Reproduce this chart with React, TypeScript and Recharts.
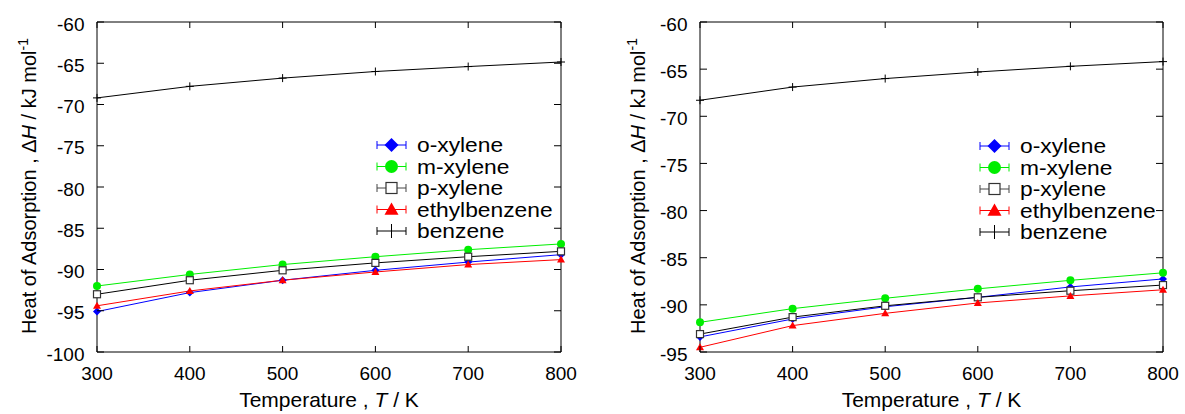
import React from 'react';
import { LineChart, Line, XAxis, YAxis, ReferenceArea, Legend } from 'recharts';

const temps = [300, 400, 500, 600, 700, 800];

// left panel
const oXyleneA = [-95.1, -92.8, -91.3, -90.1, -89.1, -88.2];
const mXyleneA = [-92.0, -90.6, -89.4, -88.45, -87.6, -86.9];
const pXyleneA = [-93.0, -91.3, -90.1, -89.2, -88.45, -87.8];
const ethylA = [-94.4, -92.6, -91.3, -90.3, -89.4, -88.8];
const benzeneA = [-69.2, -67.8, -66.8, -66.0, -65.4, -64.85];

// right panel
const oXyleneB = [-93.4, -91.5, -90.2, -89.2, -88.1, -87.25];
const mXyleneB = [-91.85, -90.4, -89.3, -88.3, -87.4, -86.6];
const pXyleneB = [-93.1, -91.3, -90.1, -89.2, -88.5, -87.9];
const ethylB = [-94.5, -92.2, -90.9, -89.8, -89.05, -88.4];
const benzeneB = [-68.3, -66.9, -66.0, -65.3, -64.7, -64.2];

const yTicksA = [-100, -95, -90, -85, -80, -75, -70, -65, -60];
const yTicksB = [-95, -90, -85, -80, -75, -70, -65, -60];

const FONT = '"Liberation Sans", Arial, Helvetica, sans-serif';

type Shape = 'diamond' | 'circle' | 'square' | 'triangle' | 'plus';

const series: { key: string; name: string; color: string; shape: Shape }[] = [
  { key: 'o', name: 'o-xylene', color: '#0000ff', shape: 'diamond' },
  { key: 'm', name: 'm-xylene', color: '#00ee00', shape: 'circle' },
  { key: 'p', name: 'p-xylene', color: '#000000', shape: 'square' },
  { key: 'e', name: 'ethylbenzene', color: '#ff0000', shape: 'triangle' },
  { key: 'b', name: 'benzene', color: '#000000', shape: 'plus' },
];

const buildRows = (o: number[], m: number[], p: number[], e: number[], b: number[]) =>
  temps.map((T, i) => ({ T, o: o[i], m: m[i], p: p[i], e: e[i], b: b[i] }));

const dataA = buildRows(oXyleneA, mXyleneA, pXyleneA, ethylA, benzeneA);
const dataB = buildRows(oXyleneB, mXyleneB, pXyleneB, ethylB, benzeneB);

const marker = (shape: Shape, cx: number, cy: number, s: number, color: string, key?: string) => {
  switch (shape) {
    case 'diamond':
      return <path key={key} d={`M${cx},${cy - s}L${cx + s},${cy}L${cx},${cy + s}L${cx - s},${cy}Z`} fill={color} />;
    case 'circle':
      return <circle key={key} cx={cx} cy={cy} r={s} fill={color} />;
    case 'square':
      return <rect key={key} x={cx - s} y={cy - s} width={2 * s} height={2 * s} fill="#fff" stroke="#333" strokeWidth={1.2} />;
    case 'triangle':
      return <path key={key} d={`M${cx},${cy - s}L${cx + s},${cy + s * 0.75}L${cx - s},${cy + s * 0.75}Z`} fill={color} />;
    default:
      return (
        <g key={key}>
          <line x1={cx - s} x2={cx + s} y1={cy} y2={cy} stroke={color} />
          <line x1={cx} x2={cx} y1={cy - s} y2={cy + s} stroke={color} />
        </g>
      );
  }
};

const yTick = (plotW: number) => (props: any) => {
  const { x, y, payload } = props;
  return (
    <g>
      <text x={x - 12.5} y={y} dy={8.5} textAnchor="end" fontSize={19} fontFamily={FONT} fill="#000">
        {payload.value}
      </text>
      <line x1={x} x2={x + 7} y1={y} y2={y} stroke="#000" />
      <line x1={x + plotW - 7} x2={x + plotW} y1={y} y2={y} stroke="#000" />
    </g>
  );
};

const xTick = (plotH: number) => (props: any) => {
  const { x, y, payload } = props;
  return (
    <g>
      <text x={x} y={y + 27.5} textAnchor="middle" fontSize={19} fontFamily={FONT} fill="#000">
        {payload.value}
      </text>
      <line x1={x} x2={x} y1={y} y2={y - 6} stroke="#000" />
      <line x1={x} x2={x} y1={y - plotH} y2={y - plotH + 6} stroke="#000" />
    </g>
  );
};

const renderLegend = () => (
  <svg width={210} height={110} style={{ overflow: 'visible' }}>
    {series.map((s, i) => {
      const cy = 12 + i * 21.5;
      const lc = s.shape === 'square' ? '#444' : s.color;
      return (
        <g key={s.key}>
          <line x1={7} x2={36} y1={cy} y2={cy} stroke={lc} />
          <line x1={7} x2={7} y1={cy - 4} y2={cy + 4} stroke={lc} />
          <line x1={36} x2={36} y1={cy - 4} y2={cy + 4} stroke={lc} />
          {s.shape === 'plus'
            ? <line x1={21.5} x2={21.5} y1={cy - 7} y2={cy + 7} stroke={lc} />
            : marker(s.shape, 21.5, cy, s.shape === 'circle' ? 6.5 : s.shape === 'square' ? 5.5 : 7, s.color)}
          <text transform={`translate(47 ${cy + 7}) scale(1.14 1)`} fontSize={20} fontFamily={FONT} fill="#000">
            {s.name}
          </text>
        </g>
      );
    })}
  </svg>
);

type PanelProps = {
  data: any[];
  domain: [number, number];
  yTicks: number[];
  width: number;
  right: number;
  axisW: number;
  labelX: number;
  legendLeft: number;
  legendTop: number;
};

const Panel = ({ data, domain, yTicks, width, right, axisW, labelX, legendLeft, legendTop }: PanelProps) => {
  const plotW = width - right - axisW;
  const plotH = 330;
  const cx = axisW + plotW / 2;
  return (
    <LineChart width={width} height={414} data={data} margin={{ top: 22, right, bottom: 0, left: 0 }}>
      <XAxis
        type="number"
        dataKey="T"
        domain={[300, 800]}
        ticks={temps}
        height={62}
        tickSize={0}
        tickMargin={0}
        axisLine={false}
        tickLine={false}
        tick={xTick(plotH)}
        label={{
          content: () => (
            <text
              transform={`translate(${cx} 407) scale(1.05 1)`}
              textAnchor="middle"
              fontSize={20}
              fontFamily={FONT}
              fill="#000"
            >
              Temperature , <tspan fontStyle="italic">T</tspan> / K
            </text>
          ),
        }}
      />
      <YAxis
        type="number"
        domain={domain}
        ticks={yTicks}
        width={axisW}
        tickSize={0}
        tickMargin={0}
        axisLine={false}
        tickLine={false}
        tick={yTick(plotW)}
        label={{
          content: () => (
            <text
              x={labelX}
              y={186}
              transform={`rotate(-90 ${labelX} 186)`}
              textAnchor="middle"
              fontSize={20}
              fontFamily={FONT}
              fill="#000"
            >
              Heat of Adsorption , Δ<tspan fontStyle="italic">H</tspan> / kJ mol
              <tspan dy={-8} fontSize={14}>-1</tspan>
            </text>
          ),
        }}
      />
      <ReferenceArea x1={300} x2={800} y1={domain[0]} y2={domain[1]} fill="none" stroke="#000" strokeWidth={1} />
      {series.map((s) => {
        const size = s.shape === 'square' ? 3.5 : 4;
        return (
          <Line
            key={s.key}
            type="linear"
            dataKey={s.key}
            name={s.name}
            stroke={s.color}
            strokeWidth={1}
            isAnimationActive={false}
            activeDot={false}
            dot={(p: any) => marker(s.shape, p.cx, p.cy, size, s.color, `${s.key}-${p.index}`)}
          />
        );
      })}
      <Legend
        layout="vertical"
        align="center"
        verticalAlign="middle"
        content={renderLegend}
        wrapperStyle={{ left: legendLeft, top: legendTop, width: 210, height: 110 }}
      />
    </LineChart>
  );
};

export default function App() {
  return (
    <div style={{ position: 'fixed', left: 0, top: 0, width: 1185, height: 414, overflow: 'hidden', background: '#fff' }}>
      <div style={{ position: 'absolute', left: 0, top: 0 }}>
        <Panel data={dataA} domain={[-100, -60]} yTicks={yTicksA} width={590} right={29} axisW={97}
          labelX={36} legendLeft={370} legendTop={133} />
      </div>
      <div style={{ position: 'absolute', left: 590, top: 0 }}>
        <Panel data={dataB} domain={[-95, -60]} yTicks={yTicksB} width={595} right={22} axisW={110}
          labelX={55} legendLeft={383} legendTop={134} />
      </div>
    </div>
  );
}
